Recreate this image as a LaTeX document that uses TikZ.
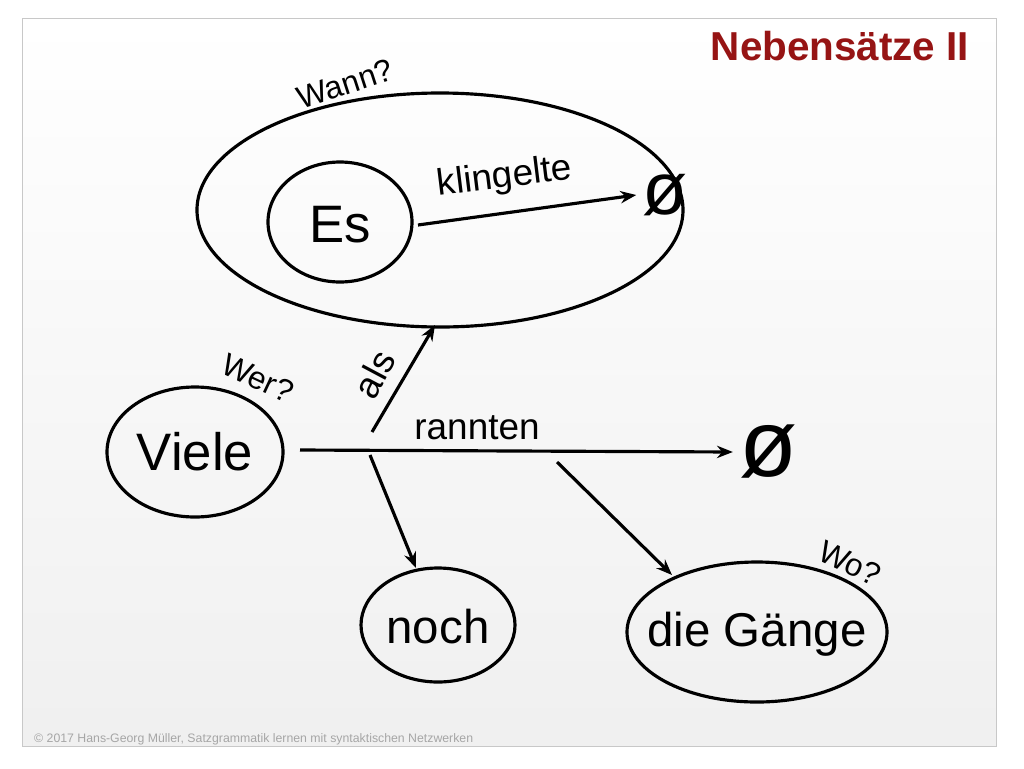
\documentclass[tikz,border=0pt]{standalone}
\usepackage{fontspec}
\setmainfont{Liberation Sans}
\definecolor{titlered}{RGB}{150,20,20}
\definecolor{frame}{RGB}{200,200,200}
\usetikzlibrary{positioning,arrows.meta}
\tikzset{
  blob/.style={draw,line width=1.6pt,ellipse,inner sep=0pt},
  link/.style={-{Stealth[length=9pt,width=7pt]},line width=1.8pt},
  ask/.style={font=\fontsize{18}{18}\selectfont},
  verb/.style={font=\fontsize{21}{21}\selectfont},
}
\begin{document}
\begin{tikzpicture}[x=0.02cm,y=-0.02cm]
  \useasboundingbox (0,0) rectangle (1024,768);
  \shade[top color=white,bottom color=gray!12] (22,18) rectangle (996,746);
  \draw[frame] (22,18) rectangle (996,746);
  \node[titlered,font=\bfseries\fontsize{23}{23}\selectfont] (title) at (840,46) {Nebensätze II};

  % clause
  \draw[line width=1.8pt] (440,210) ellipse (243 and 117);
  \node[ask,rotate=18] (wann) at (345,84) {Wann?};
  \draw[line width=1.8pt] (340,222) ellipse (72 and 60);
  \node[font=\fontsize{30}{30}\selectfont] (es) at (340,225) {Es};
  \coordinate (es-out) at (418,225);
  \node[font=\fontsize{42}{42}\selectfont] (null1) at (665,195) {ø};
  \draw[link] (es-out) -- (null1.west);
  \node[verb,rotate=7] (klingelte) at (505,178) {klingelte};

  % main clause
  \draw[line width=1.8pt] (195,452) ellipse (88 and 65);
  \node[font=\fontsize{30}{30}\selectfont] (viele) at (195,452) {Viele};
  \node[ask,rotate=-25] (wer) at (258,378) {Wer?};
  \coordinate (v-out) at (300,450);
  \node[font=\fontsize{54}{54}\selectfont] (null2) at (768,452) {ø};
  \draw[link] (v-out) -- (null2.west);
  \node[verb] (rannten) at (477,428) {rannten};

  \coordinate (als-start) at (372,432);
  \coordinate (als-end) at (435,325);
  \draw[link] (als-start) -- (als-end);
  \node[verb,rotate=62] (als) at (374,374) {als};

  \draw[line width=1.8pt] (438,625) ellipse (77 and 57);
  \node[font=\fontsize{27}{27}\selectfont] (noch) at (438,627) {noch};
  \coordinate (n-start) at (370,455);
  \coordinate (n-end) at (416,568);
  \draw[link] (n-start) -- (n-end);

  \draw[line width=1.8pt] (757,632) ellipse (130 and 70);
  \node[font=\fontsize{27}{27}\selectfont] (gaenge) at (757,634) {die Gänge};
  \coordinate (g-start) at (557,462);
  \coordinate (g-end) at (672,575);
  \draw[link] (g-start) -- (g-end);
  \node[ask,rotate=-25] (wo) at (850,563) {Wo?};

  \node[gray!70,font=\fontsize{7}{7}\selectfont,anchor=west] (foot) at (28,739)
    {© 2017 Hans-Georg Müller, Satzgrammatik lernen mit syntaktischen Netzwerken};
\end{tikzpicture}
\end{document}
